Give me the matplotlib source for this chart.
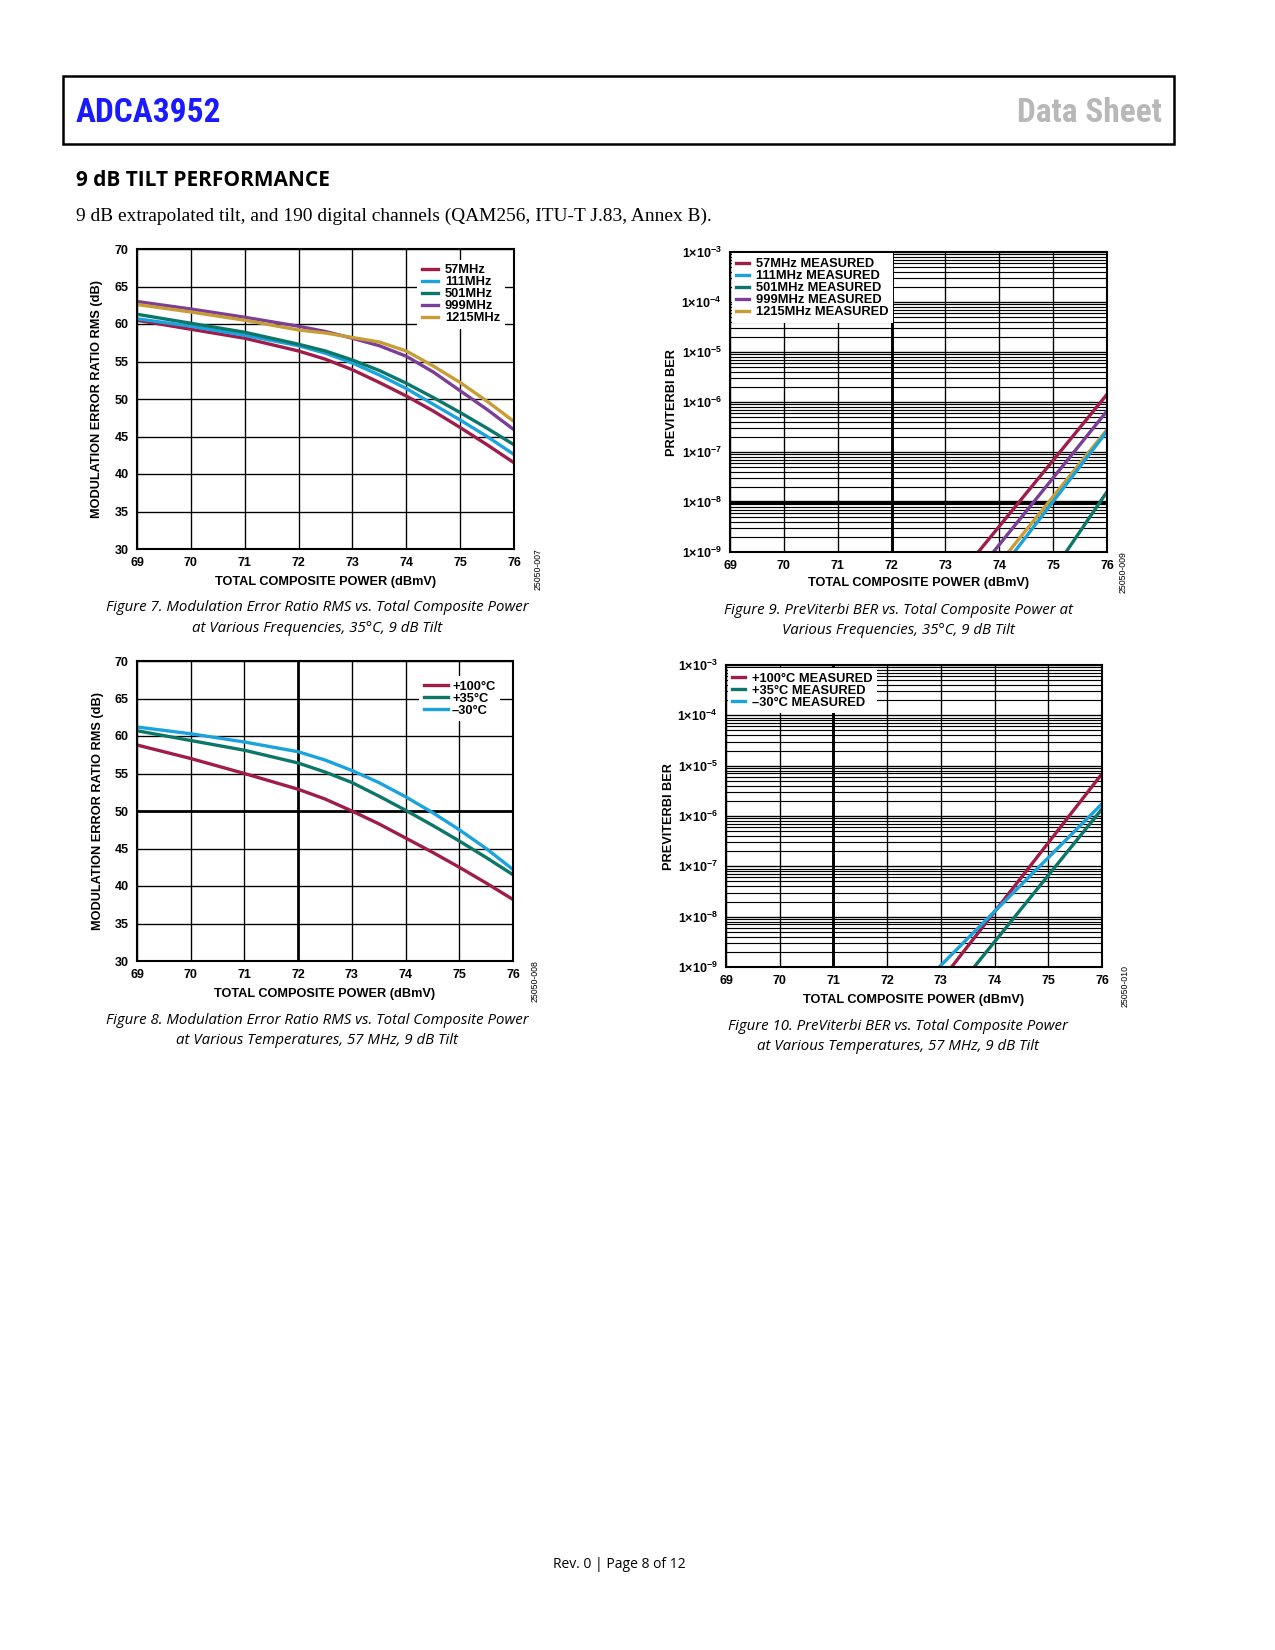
import numpy as np
import matplotlib
matplotlib.use("Agg")
import matplotlib.pyplot as plt
from matplotlib import font_manager
from matplotlib.patches import Rectangle
from matplotlib.ticker import LogLocator, FixedLocator, NullFormatter

plt.rcParams['font.family'] = ['Liberation Sans', 'DejaVu Sans']
plt.rcParams['mathtext.fontset'] = 'custom'
plt.rcParams['mathtext.rm'] = 'Liberation Sans:bold'
plt.rcParams['mathtext.it'] = 'Liberation Sans:bold'
plt.rcParams['mathtext.bf'] = 'Liberation Sans:bold'

W, H = 1275, 1650

# --- data: MER vs power (Figure 7, frequencies) ---
power = [69, 70, 71, 72, 72.5, 73, 73.5, 74, 74.5, 75, 75.5, 76]
mer_freq_labels = ["57MHz", "111MHz", "501MHz", "999MHz", "1215MHz"]
mer_57 = [60.5, 59.3, 58.1, 56.4, 55.3, 53.9, 52.2, 50.4, 48.4, 46.2, 43.9, 41.5]
mer_111 = [60.7, 59.7, 58.5, 57.1, 56.1, 54.8, 53.2, 51.4, 49.3, 47.2, 45.0, 42.6]
mer_501 = [61.3, 60.1, 58.9, 57.3, 56.4, 55.2, 53.8, 52.1, 50.2, 48.2, 46.1, 43.9]
mer_999 = [63.0, 62.0, 60.9, 59.7, 59.0, 58.1, 57.1, 55.7, 53.6, 51.1, 48.6, 45.9]
mer_1215 = [62.6, 61.6, 60.5, 59.2, 58.8, 58.2, 57.6, 56.4, 54.4, 52.2, 49.7, 47.0]

# --- data: MER vs power (Figure 8, temperatures) ---
temp_labels = ["+100°C", "+35°C", "\u201330°C"]
mer_t100 = [58.8, 57.0, 55.0, 52.9, 51.6, 50.0, 48.3, 46.4, 44.5, 42.5, 40.4, 38.2]
mer_t35 = [60.7, 59.4, 58.1, 56.4, 55.2, 53.8, 52.0, 50.1, 48.1, 46.0, 43.8, 41.5]
mer_tm30 = [61.2, 60.3, 59.2, 57.9, 56.8, 55.4, 53.8, 51.9, 49.8, 47.5, 45.0, 42.2]

# --- data: BER vs power (Figure 9, frequencies) ---
ber_freq_labels = ["57MHz MEASURED", "111MHz MEASURED", "501MHz MEASURED",
                   "999MHz MEASURED", "1215MHz MEASURED"]
ber_57_x, ber_57_y = [73.61, 76], [1e-9, 1.42e-6]
ber_111_x, ber_111_y = [74.28, 76], [1e-9, 2.6e-7]
ber_501_x, ber_501_y = [75.24, 76], [1e-9, 1.6e-8]
ber_999_x, ber_999_y = [73.89, 76], [1e-9, 6.6e-7]
ber_1215_x, ber_1215_y = [74.17, 76], [1e-9, 2.8e-7]

# --- data: BER vs power (Figure 10, temperatures) ---
ber_temp_labels = ["+100°C MEASURED", "+35°C MEASURED", "\u201330°C MEASURED"]
ber_t100_x, ber_t100_y = [73.20, 76], [1e-9, 6.9e-6]
ber_t35_x, ber_t35_y = [73.62, 76], [1e-9, 1.38e-6]
ber_tm30_x, ber_tm30_y = [72.97, 76], [1e-9, 1.75e-6]

RED = "#a01c4a"
CYAN = "#1aa3dc"
TEAL = "#0c7768"
PURPLE = "#7b3f98"
GOLD = "#c89d35"

fig = plt.figure(figsize=(W / 150, H / 150), dpi=150)


def px_axes(l, t, r, b):
    return fig.add_axes([l / W, 1 - b / H, (r - l) / W, (b - t) / H])


def ftext(x, y, s, **kw):
    fig.text(x / W, 1 - y / H, s, **kw)


def style_common(ax):
    for sp in ax.spines.values():
        sp.set_linewidth(1.0)
    ax.tick_params(axis='both', which='both', length=0, labelsize=6, pad=4)
    for lab in ax.get_xticklabels() + ax.get_yticklabels():
        lab.set_fontweight('bold')
    ax.set_xlim(69, 76)


def mer_axes(ax, bold_x=None, bold_y=None):
    ax.set_ylim(30, 70)
    ax.set_xticks(range(69, 77))
    ax.set_yticks(range(30, 71, 5))
    ax.grid(True, color='black', lw=0.65)
    ax.set_axisbelow(True)
    if bold_x is not None:
        ax.axvline(bold_x, color='black', lw=1.3, zorder=0.5)
    if bold_y is not None:
        ax.axhline(bold_y, color='black', lw=1.3, zorder=0.5)
    style_common(ax)


def ber_axes(ax, bold_x=None, bold_y=None):
    ax.set_yscale('log')
    ax.set_ylim(1e-9, 1e-3)
    ax.set_xticks(range(69, 77))
    ax.yaxis.set_major_locator(FixedLocator([10.0 ** e for e in range(-9, -2)]))
    ax.yaxis.set_minor_locator(LogLocator(base=10, subs=np.arange(2, 10), numticks=20))
    ax.yaxis.set_minor_formatter(NullFormatter())
    ax.set_yticklabels([r'$1{\times}10^{%d}$' % e for e in range(-9, -2)])
    ax.grid(True, which='major', color='black', lw=0.65)
    ax.grid(True, which='minor', axis='y', color='black', lw=0.55)
    ax.set_axisbelow(True)
    if bold_x is not None:
        ax.axvline(bold_x, color='black', lw=1.4, zorder=0.5)
    if bold_y is not None:
        ax.axhline(bold_y, color='black', lw=1.6, zorder=0.5)
    style_common(ax)


def add_legend(ax, loc, anchor, hl, htp, handles=None, labels=None):
    kw = dict(loc=loc, bbox_to_anchor=anchor, frameon=True, fancybox=False,
              facecolor='white', edgecolor='none', framealpha=1,
              borderpad=0.35, labelspacing=0.0, handlelength=hl,
              handletextpad=htp, borderaxespad=0,
              prop={'weight': 'bold', 'size': 6.2})
    if handles is not None:
        return ax.legend(handles, labels, **kw)
    return ax.legend(**kw)


LW = 1.6

# Figure 7
ax7 = px_axes(137, 249, 514, 549)
mer_axes(ax7)
ax7.plot(power, mer_57, color=RED, lw=LW, label=mer_freq_labels[0])
ax7.plot(power, mer_111, color=CYAN, lw=LW, label=mer_freq_labels[1])
ax7.plot(power, mer_501, color=TEAL, lw=LW, label=mer_freq_labels[2])
ax7.plot(power, mer_999, color=PURPLE, lw=LW, label=mer_freq_labels[3])
ax7.plot(power, mer_1215, color=GOLD, lw=LW, label=mer_freq_labels[4])
add_legend(ax7, 'upper right', (0.975, 0.965), 1.3, 0.5)

# Figure 8
ax8 = px_axes(137, 661, 513, 961)
mer_axes(ax8, bold_x=72, bold_y=50)
ax8.plot(power, mer_t100, color=RED, lw=LW, label=temp_labels[0])
ax8.plot(power, mer_t35, color=TEAL, lw=LW, label=temp_labels[1])
ax8.plot(power, mer_tm30, color=CYAN, lw=LW, label=temp_labels[2])
add_legend(ax8, 'upper right', (0.965, 0.95), 1.9, 0.3)

# Figure 9
ax9 = px_axes(730, 252, 1107, 552)
ber_axes(ax9, bold_x=72, bold_y=1e-8)
ax9.plot(ber_57_x, ber_57_y, color=RED, lw=LW, label=ber_freq_labels[0])
ax9.plot(ber_1215_x, ber_1215_y, color=GOLD, lw=LW, label=ber_freq_labels[4])
ax9.plot(ber_111_x, ber_111_y, color=CYAN, lw=LW, label=ber_freq_labels[1])
ax9.plot(ber_501_x, ber_501_y, color=TEAL, lw=LW, label=ber_freq_labels[2])
ax9.plot(ber_999_x, ber_999_y, color=PURPLE, lw=LW, label=ber_freq_labels[3])
h, l = ax9.get_legend_handles_labels()
order = [0, 2, 3, 4, 1]
add_legend(ax9, 'upper left', (0.005, 0.995), 1.0, 0.5,
           [h[i] for i in order], [l[i] for i in order])

# Figure 10
ax10 = px_axes(726, 665, 1102, 967)
ber_axes(ax10, bold_x=71)
ax10.plot(ber_t100_x, ber_t100_y, color=RED, lw=LW, label=ber_temp_labels[0])
ax10.plot(ber_t35_x, ber_t35_y, color=TEAL, lw=LW, label=ber_temp_labels[1])
ax10.plot(ber_tm30_x, ber_tm30_y, color=CYAN, lw=LW, label=ber_temp_labels[2])
add_legend(ax10, 'upper left', (0.005, 0.99), 1.0, 0.5)

# axis labels
lab_kw = dict(fontsize=6.1, fontweight='bold', ha='center', va='center')
ftext(326, 582, "TOTAL COMPOSITE POWER (dBmV)", **lab_kw)
ftext(325, 994, "TOTAL COMPOSITE POWER (dBmV)", **lab_kw)
ftext(919, 583, "TOTAL COMPOSITE POWER (dBmV)", **lab_kw)
ftext(914, 1000, "TOTAL COMPOSITE POWER (dBmV)", **lab_kw)
ftext(97, 399, "MODULATION ERROR RATIO RMS (dB)", rotation=90, **lab_kw)
ftext(98, 811, "MODULATION ERROR RATIO RMS (dB)", rotation=90, **lab_kw)
ftext(672, 402, "PREVITERBI BER", rotation=90, **lab_kw)
ftext(669, 816, "PREVITERBI BER", rotation=90, **lab_kw)

# figure ids
id_kw = dict(fontsize=4.2, rotation=90, ha='center', va='center')
ftext(538, 569, "25050-007", **id_kw)
ftext(1123, 572, "25050-009", **id_kw)
ftext(535, 981, "25050-008", **id_kw)
ftext(1125, 986, "25050-010", **id_kw)

# captions
cap_kw = dict(fontsize=7.2, style='italic', ha='center', va='center',
              family=['Open Sans', 'DejaVu Sans'])
ftext(317, 608, "Figure 7. Modulation Error Ratio RMS vs. Total Composite Power", **cap_kw)
ftext(317, 628, "at Various Frequencies, 35°C, 9 dB Tilt", **cap_kw)
ftext(898, 610, "Figure 9. PreViterbi BER vs. Total Composite Power at", **cap_kw)
ftext(898, 630, "Various Frequencies, 35°C, 9 dB Tilt", **cap_kw)
ftext(317, 1020, "Figure 8. Modulation Error Ratio RMS vs. Total Composite Power", **cap_kw)
ftext(317, 1040, "at Various Temperatures, 57 MHz, 9 dB Tilt", **cap_kw)
ftext(898, 1026, "Figure 10. PreViterbi BER vs. Total Composite Power", **cap_kw)
ftext(898, 1046, "at Various Temperatures, 57 MHz, 9 dB Tilt", **cap_kw)

# page header: use a narrow face if one is installed, else Liberation Sans
head_family, head_size = 'Liberation Sans', 14.5
for name in ['Liberation Sans Narrow', 'Roboto Condensed', 'Open Sans Condensed',
             'Noto Sans Condensed', 'DejaVu Sans Condensed']:
    try:
        font_manager.findfont(font_manager.FontProperties(family=name),
                              fallback_to_default=False)
        head_family, head_size = name, 16
        break
    except ValueError:
        pass

fig.patches.append(Rectangle((63 / W, 1 - 144 / H), (1174 - 63) / W, (144 - 76) / H,
                             transform=fig.transFigure, fill=False, lw=1.2,
                             edgecolor='black'))
head_kw = dict(fontsize=head_size, fontweight='bold', va='center',
               family=[head_family, 'DejaVu Sans'])
ftext(76, 113, "ADCA3952", color='#1a1aff', ha='left', **head_kw)
ftext(1162, 113, "Data Sheet", color='#b8b8b8', ha='right', **head_kw)
ftext(76, 180, "9 dB TILT PERFORMANCE", fontsize=10, fontweight='bold',
      ha='left', va='center', family=['Open Sans', 'DejaVu Sans'])
ftext(76, 216, "9 dB extrapolated tilt, and 190 digital channels (QAM256, ITU-T J.83, Annex B).",
      fontsize=9.3, ha='left', va='center', family=['Liberation Serif', 'DejaVu Serif'])
ftext(619, 1565, "Rev. 0 | Page 8 of 12", fontsize=6.7, ha='center', va='center',
      family=['Open Sans', 'DejaVu Sans'])

fig.savefig("out.png", dpi=150)
